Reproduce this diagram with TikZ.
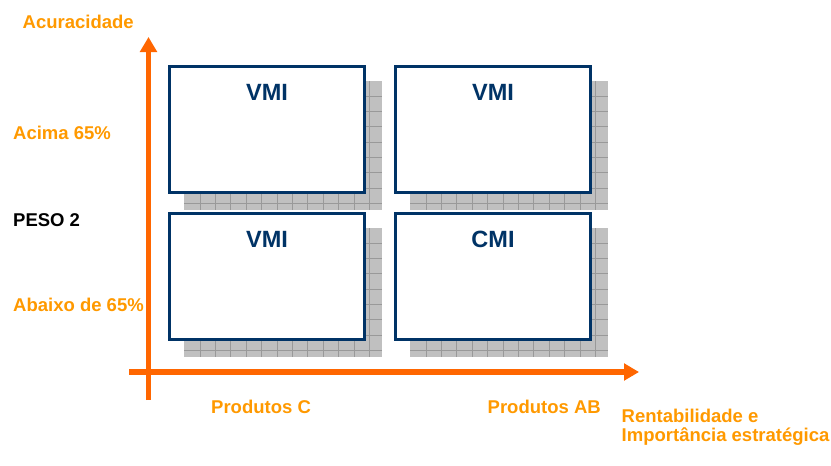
\documentclass[tikz,border=0pt]{standalone}
\usepackage{fontspec}
\setmainfont{Liberation Sans}
\usetikzlibrary{arrows.meta,backgrounds}

\definecolor{axisorange}{HTML}{FF6600}
\definecolor{labelorange}{HTML}{FF9900}
\definecolor{boxblue}{HTML}{003366}
\definecolor{shadegray}{HTML}{C0C0C0}
\definecolor{shadeline}{HTML}{999999}

% quadrant: name, centre x, centre y, title
\newcommand\quadrant[4]{%
  \node[quad] (#1) at (#2,#3) {};
  \node[quadtitle] (#1-title) at (#2,#3-29.5) {#4};
  \begin{pgfonlayer}{background}
    \begin{scope}[shift={(#2-83,#3-48.5)}]
      \fill[shadegray] (0,0) rectangle (198,129);
      \begin{scope}
        \clip (0,0) rectangle (198,129);
        \foreach \k in {1,...,12} \draw[shadeline, line width=0.9pt] (15.4*\k+0.6,0) -- ++(0,129);
        \foreach \k in {1,...,8} \draw[shadeline, line width=0.9pt] (0,15.3*\k) -- ++(198,0);
      \end{scope}
    \end{scope}
  \end{pgfonlayer}
}

\begin{document}
\begin{tikzpicture}[x=1pt,y=-1pt,
  quad/.style={draw=boxblue, line width=3pt, fill=white,
    minimum width=195pt, minimum height=126pt, inner sep=0pt},
  quadtitle/.style={text=boxblue, inner sep=0pt, anchor=base,
    font=\bfseries\fontsize{23.5}{28}\selectfont},
  axistext/.style={text=labelorange, inner sep=0pt, anchor=base west,
    font=\bfseries\fontsize{18.5}{20}\selectfont},
  blacktext/.style={axistext, text=black},
  axisline/.style={draw=axisorange, line width=5.5pt,
    -{Triangle[length=15pt,width=16.5pt]}},
]
\useasboundingbox (0,0) rectangle (831,466);

% quadrants with their hatched shadows
\quadrant{q11}{267}{129.5}{VMI}
\quadrant{q12}{493}{129.5}{VMI}
\quadrant{q21}{267}{276.5}{VMI}
\quadrant{q22}{493}{276.5}{CMI}

% axes
\coordinate (yfoot) at (148.5,400);
\coordinate (ytip) at (148.5,37);
\coordinate (xfoot) at (129,372);
\coordinate (xtip) at (639,372);
\draw[axisline] (yfoot) -- (ytip);
\draw[axisline] (xfoot) -- (xtip);

% vertical axis labels
\node[axistext] (ytitle) at (22.5,28.3) {Acuracidade};
\node[axistext] (yhigh) at (13,139) {Acima 65\%};
\node[blacktext] (weight) at (13,226) {PESO 2};
\node[axistext] (ylow) at (13,311) {Abaixo de 65\%};

% horizontal axis labels
\node[axistext] (xlow) at (211,413.3) {Produtos C};
\node[axistext] (xhigh) at (487.5,413.3) {Produtos AB};
\node[axistext, align=left, anchor=base west] (xtitle) at (621.5,441.7)
  {Rentabilidade e\\[-0.5pt]Importância estratégica};
\end{tikzpicture}
\end{document}
